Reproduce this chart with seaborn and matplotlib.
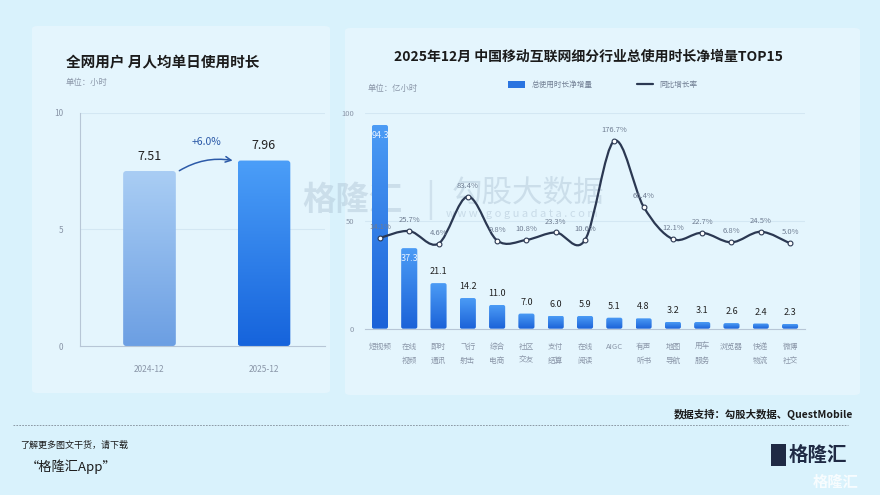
import numpy as np
import pandas as pd
import matplotlib
matplotlib.use("Agg")
import matplotlib.pyplot as plt
import seaborn as sns
from matplotlib.patches import FancyBboxPatch, PathPatch, Rectangle
from matplotlib.path import Path
from matplotlib.lines import Line2D

# ---- data ----
months = ["2024-12", "2025-12"]
daily_hours = [7.51, 7.96]
daily_growth = "+6.0%"

industries = ["短视频", "在线\n视频", "即时\n通讯", "飞行\n射击", "综合\n电商", "社区\n交友",
              "支付\n结算", "在线\n阅读", "AIGC", "有声\n听书", "地图\n导航", "用车\n服务",
              "浏览器", "快递\n物流", "微博\n社交"]
net_increase = [94.3, 37.3, 21.1, 14.2, 11.0, 7.0, 6.0, 5.9, 5.1, 4.8, 3.2, 3.1, 2.6, 2.4, 2.3]
yoy_growth = [14.1, 25.7, 4.6, 83.4, 9.8, 10.8, 23.3, 10.6, 176.7, 66.4, 12.1, 22.7, 6.8, 24.5, 5.0]

sns.set_style("white")
plt.rcParams["font.family"] = ["Noto Sans CJK SC", "DejaVu Sans"]

W, H = 880, 495
fig = plt.figure(figsize=(W / 100, H / 100), dpi=100)
fig.patch.set_facecolor("#d9f2fc")


def px_box(x0, y0, x1, y1):
    return [x0 / W, 1 - y1 / H, (x1 - x0) / W, (y1 - y0) / H]


# panels (behind the axes)
for (x0, y0, x1, y1) in [(32, 26, 330, 393), (345, 28, 860, 395)]:
    fig.patches.append(FancyBboxPatch((x0 / W, 1 - y1 / H), (x1 - x0) / W, (y1 - y0) / H,
                                      boxstyle="round,pad=0,rounding_size=0.006",
                                      transform=fig.transFigure, facecolor="#e4f5fd",
                                      edgecolor="none", zorder=-5))

# watermarks (behind the axes)
fig.text(352 / W, 1 - 200 / H, "格隆汇", fontsize=24, color="#9fb4c8", alpha=0.35,
         ha="center", va="center", fontweight="bold", zorder=-1)
fig.text(430 / W, 1 - 200 / H, "|", fontsize=26, color="#9fb4c8", alpha=0.3, ha="center",
         va="center", zorder=-1)
fig.text(528 / W, 1 - 193 / H, "勾股大数据", fontsize=22, color="#9fb4c8", alpha=0.35,
         ha="center", va="center", zorder=-1)
fig.text(522 / W, 1 - 214 / H, "w w w . g o g u a d a t a . c o m", fontsize=8, color="#9fb4c8",
         alpha=0.4, ha="center", va="center", zorder=-1)


def gradient_bars(ax, top_colors, bot_colors, r_px):
    fig.canvas.draw()
    bb = ax.get_window_extent()
    x0, x1 = ax.get_xlim()
    y0, y1 = ax.get_ylim()
    pxx = bb.width / (x1 - x0)
    pxy = bb.height / (y1 - y0)
    r = r_px / pxx
    aspect = pxx / pxy
    bars = list(ax.patches)
    for i, p in enumerate(bars):
        bx, bw, bh = p.get_x(), p.get_width(), p.get_height()
        p.set_visible(False)
        clip = FancyBboxPatch((bx, 0), bw, bh, boxstyle=f"round,pad=0,rounding_size={r}",
                              mutation_aspect=aspect, facecolor="none", edgecolor="none",
                              transform=ax.transData)
        ax.add_patch(clip)
        c_top = np.array(matplotlib.colors.to_rgb(top_colors[i]))
        c_bot = np.array(matplotlib.colors.to_rgb(bot_colors[i]))
        t = np.linspace(0, 1, 64)[:, None]
        grad = (c_top * (1 - t) + c_bot * t)[:, None, :]
        im = ax.imshow(grad, extent=[bx, bx + bw, 0, bh], aspect="auto",
                       origin="upper", zorder=2, interpolation="bilinear")
        im.set_clip_path(clip)
    ax.set_xlim(x0, x1)
    ax.set_ylim(y0, y1)


# ---- left chart ----
axL = fig.add_axes(px_box(80, 113, 325, 346))
axL.set_facecolor("none")
dfL = pd.DataFrame({"month": months, "hours": daily_hours})
sns.barplot(data=dfL, x="month", y="hours", ax=axL, width=0.46, color="#5b9be8")
axL.set_xlim(-0.607, 1.533)
axL.set_ylim(0, 10)
axL.set_yticks([0, 5, 10])
axL.set_yticklabels(["0", "5", "10"])
axL.tick_params(axis="both", length=0, labelsize=6, colors="#8a96a8")
axL.tick_params(axis="x", pad=14)
axL.tick_params(axis="y", pad=12)
axL.set_xlabel("")
axL.set_ylabel("")
for s in ["top", "right"]:
    axL.spines[s].set_visible(False)
axL.spines["left"].set_color("#b7c6d6")
axL.spines["bottom"].set_color("#b7c6d6")
for yv in [5, 10]:
    axL.axhline(yv, color="#d3e7f3", lw=0.8, zorder=0)
gradient_bars(axL, ["#a9cdf4", "#4b9ef8"], ["#6c9fe3", "#1664dc"], 3)
for i, v in enumerate(daily_hours):
    axL.annotate(f"{v:.2f}", (i, v), xytext=(0, 6), textcoords="offset points",
                 ha="center", va="bottom", fontsize=9, color="#222222")
axL.annotate("", xy=(1 - 0.25, daily_hours[1] - 0.02), xytext=(0.24, daily_hours[0] - 0.05),
             arrowprops=dict(arrowstyle="->", color="#2c5aa8", lw=1.1,
                             connectionstyle="arc3,rad=-0.2"), zorder=5)
axL.text(0.5, 8.55, daily_growth, ha="center", va="bottom", fontsize=7.5, color="#2c5aa8")

fig.text(66 / W, 1 - 62 / H, "全网用户 月人均单日使用时长", fontsize=10.5, color="#1b1b1b",
         va="center", ha="left", fontweight="bold")
fig.text(66 / W, 1 - 83 / H, "单位：小时", fontsize=6, color="#8a96a8", va="center", ha="left")

# ---- right chart ----
axR = fig.add_axes(px_box(365, 112.7, 805, 328.7))
axR.set_facecolor("none")
dfR = pd.DataFrame({"industry": industries, "increase": net_increase, "growth": yoy_growth})
sns.barplot(data=dfR, x="industry", y="increase", ax=axR, width=0.55, color="#2f7fe8")
axR.set_xlim(-0.51, 14.51)
axR.set_ylim(0, 100)
axR.set_yticks([0, 50, 100])
axR.tick_params(axis="both", length=0, labelsize=5.5, colors="#8a96a8")
axR.tick_params(axis="x", pad=10)
axR.tick_params(axis="y", pad=8)
axR.set_xlabel("")
axR.set_ylabel("")
for lab in axR.get_xticklabels():
    lab.set_linespacing(2.0)
for s in ["top", "right", "left"]:
    axR.spines[s].set_visible(False)
axR.spines["bottom"].set_color("#b7c6d6")
for yv in [50, 100]:
    axR.axhline(yv, color="#d3e7f3", lw=0.8, zorder=0)
n = len(net_increase)
gradient_bars(axR, ["#4b9bf5"] * n, ["#1b62d8"] * n, 2)
for i, v in enumerate(net_increase):
    if v > 30:
        axR.annotate(f"{v:.1f}", (i, v), xytext=(0, -4), textcoords="offset points",
                     ha="center", va="top", fontsize=6.5, color="#e8f2ff", zorder=6)
    else:
        axR.annotate(f"{v:.1f}", (i, v), xytext=(0, 5), textcoords="offset points",
                     ha="center", va="bottom", fontsize=6.5, color="#222222", zorder=6)

ax2 = axR.twinx()
ax2.set_ylim(-137.9, 223.9)
ax2.axis("off")
xs = np.arange(n, dtype=float)
ys = np.array(yoy_growth, dtype=float)
# smooth curve (Catmull-Rom as cubic Bezier through the data points)
verts = [(xs[0], ys[0])]
codes = [Path.MOVETO]
for i in range(n - 1):
    p0 = np.array([xs[max(i - 1, 0)], ys[max(i - 1, 0)]])
    p1 = np.array([xs[i], ys[i]])
    p2 = np.array([xs[i + 1], ys[i + 1]])
    p3 = np.array([xs[min(i + 2, n - 1)], ys[min(i + 2, n - 1)]])
    c1 = p1 + (p2 - p0) / 6
    c2 = p2 - (p3 - p1) / 6
    verts += [tuple(c1), tuple(c2), tuple(p2)]
    codes += [Path.CURVE4] * 3
ax2.add_patch(PathPatch(Path(verts, codes), facecolor="none", edgecolor="#2b3852", lw=1.6, zorder=7))
sns.scatterplot(data=dfR.assign(pos=xs), x="pos", y="growth", ax=ax2, s=12, color="white",
                edgecolor="#2b3852", linewidth=0.8, zorder=8, legend=False)
for i, v in enumerate(yoy_growth):
    ax2.annotate(f"{v:.1f}%", (i, v), xytext=(0, 5), textcoords="offset points",
                 ha="center", va="bottom", fontsize=5.5, color="#6f7d92", zorder=9)
ax2.set_xlim(-0.51, 14.51)

fig.text(588 / W, 1 - 57 / H, "2025年12月 中国移动互联网细分行业总使用时长净增量TOP15",
         fontsize=10, color="#1b1b1b", ha="center", va="center", fontweight="bold")
fig.text(368 / W, 1 - 89 / H, "单位：亿小时", fontsize=6, color="#8a96a8", ha="left", va="center")
handles = [FancyBboxPatch((0, 0), 1, 1, boxstyle="round,pad=0,rounding_size=0.3",
                          facecolor="#2a74e0", edgecolor="none"),
           Line2D([0], [0], color="#2b3852", lw=1.6)]
fig.legend(handles, ["总使用时长净增量", "同比增长率"], loc="center", ncol=2,
           bbox_to_anchor=(603 / W, 1 - 85 / H), frameon=False, fontsize=5.5,
           labelcolor="#6f7d92", handlelength=2.2, handleheight=0.9, columnspacing=5.8)

# footer
fig.text(853 / W, 1 - 414 / H, "数据支持：勾股大数据、QuestMobile", fontsize=7.5, color="#1b1b1b",
         ha="right", va="center", fontweight="bold")
fig.add_artist(Line2D([13 / W, 848 / W], [1 - 425 / H, 1 - 425 / H], transform=fig.transFigure,
                      color="#7f8a96", lw=0.6, ls=(0, (2, 1.5))))
fig.text(20 / W, 1 - 445 / H, "了解更多图文干货，请下载", fontsize=6.5, color="#1b1b1b",
         style="italic", ha="left", va="center")
fig.text(26 / W, 1 - 467 / H, "“格隆汇App”", fontsize=9.5, color="#1b1b1b",
         style="italic", ha="left", va="center")
fig.patches.append(Rectangle((771 / W, 1 - 466 / H), 15 / W, 22 / H, transform=fig.transFigure,
                             facecolor="#1f2a44", edgecolor="none"))
fig.text(789 / W, 1 - 455 / H, "格隆汇", fontsize=14, color="#1f2a44", ha="left", va="center",
         fontweight="bold")
fig.text(858 / W, 1 - 482 / H, "格隆汇", fontsize=11, color="#ffffff", alpha=0.8, ha="right",
         va="center", fontweight="bold")

fig.savefig("out.png", dpi=100, facecolor=fig.get_facecolor())
